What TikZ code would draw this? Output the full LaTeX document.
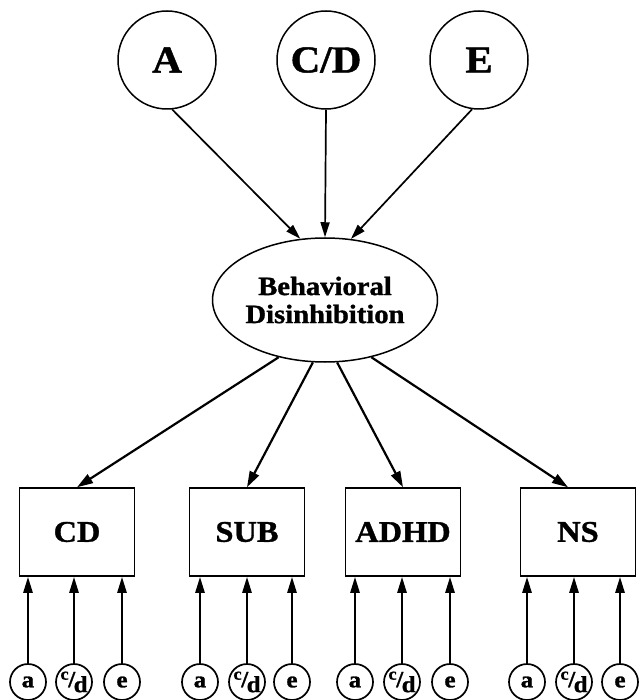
\documentclass[tikz,border=0pt]{standalone}
\usepackage{fontspec}
\setmainfont{Liberation Serif}[FakeStretch=1.08,BoldFeatures={FakeBold=1.2}]
\usetikzlibrary{arrows.meta,calc,shapes.geometric}

% nut-style fraction c/d for the small latent factors
\newcommand{\cdfrac}{\raisebox{0.32em}{\fontsize{17pt}{17pt}\selectfont c}\kern-0.3pt/\kern-1.5pt\raisebox{-0.22em}{d}}

\begin{document}
\begin{tikzpicture}[x=1pt,y=-1pt,
  bigfactor/.style={circle,draw,line width=1.5pt,minimum size=98pt,inner sep=0pt,
                    font=\fontsize{38pt}{38pt}\selectfont\bfseries},
  latent/.style={ellipse,draw,line width=1.5pt,minimum width=188pt,minimum height=124pt,
                 inner sep=0pt,align=center,font=\fontsize{26.5pt}{28pt}\selectfont\bfseries},
  measure/.style={rectangle,draw,line width=1.5pt,minimum width=115pt,minimum height=88pt,
                  inner sep=0pt,font=\fontsize{30pt}{30pt}\selectfont\bfseries},
  smallfactor/.style={circle,draw,line width=1.7pt,minimum size=36pt,inner sep=0pt,
                      font=\fontsize{23pt}{23pt}\selectfont\bfseries},
  toparrow/.style={-{Triangle[length=15pt,width=9pt]},line width=1.7pt},
  midarrow/.style={-{Triangle[length=16pt,width=10pt]},line width=2.2pt},
  lowarrow/.style={-{Triangle[length=16pt,width=9pt]},line width=2.5pt}]

\useasboundingbox (0,0) rectangle (638,700);

% common genetic and environmental factors
\node[bigfactor] (A)  at (167,60) {A};
\node[bigfactor] (CD0) at (326,60) {C/D};
\node[bigfactor] (E)  at (479,60) {E};

% latent phenotype
\node[latent] (BD) at (325,300) {Behavioral\\Disinhibition};

% observed measures
\node[measure] (CD)   at (77,532)  {CD};
\node[measure] (SUB)  at (247,532) {SUB};
\node[measure] (ADHD) at (403,532) {ADHD};
\node[measure] (NS)   at (578,532) {NS};

% specific factors under each measure
\node[smallfactor] (a1) at (28,682)  {a};
\node[smallfactor] (c1) at (74,682)  {\cdfrac};
\node[smallfactor] (e1) at (122,682) {e};
\node[smallfactor] (a2) at (200,682) {a};
\node[smallfactor] (c2) at (247,682) {\cdfrac};
\node[smallfactor] (e2) at (292,682) {e};
\node[smallfactor] (a3) at (355,682) {a};
\node[smallfactor] (c3) at (402,682) {\cdfrac};
\node[smallfactor] (e3) at (450,682) {e};
\node[smallfactor] (a4) at (527,682) {a};
\node[smallfactor] (c4) at (574,682) {\cdfrac};
\node[smallfactor] (e4) at (620,682) {e};

% paths into the latent phenotype
\draw[toparrow] (A.-84) -- (BD.112);
\draw[toparrow] (CD0.south) -- (BD.north);
\draw[toparrow] (E.-98) -- (BD.67);

% loadings on the measures
\draw[midarrow] (BD.-129) -- (CD.north);
\draw[midarrow] (BD.-101) -- (SUB.north);
\draw[midarrow] (BD.-79)  -- (ADHD.north);
\draw[midarrow] (BD.-51)  -- ($(NS.north)+(-10,0)$);

% specific paths into each measure
\foreach \f/\m in {a1/CD,c1/CD,e1/CD,a2/SUB,c2/SUB,e2/SUB,
                   a3/ADHD,c3/ADHD,e3/ADHD,a4/NS,c4/NS,e4/NS}{
  \draw[lowarrow] (\f.north) -- (\f.north |- \m.south);
}
\end{tikzpicture}
\end{document}
